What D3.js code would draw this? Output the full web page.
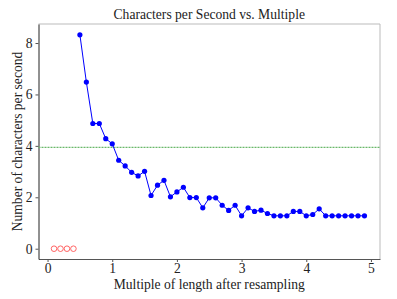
<!DOCTYPE html>
<html lang="en">
<head>
  <meta charset="UTF-8">
  <title>Characters per Second vs. Multiple</title>
  <script src="https://d3js.org/d3.v7.min.js"></script>
  <style>
    body { margin: 0; background: #fff; }
    svg { display: block; }
    svg text { font-family: "Liberation Serif", "DejaVu Serif", serif; }
  </style>
</head>
<body>
<svg width="397" height="299"></svg>
<script>
// multiples with zero throughput (red open circles)
const zeroX = [0.1, 0.2, 0.3, 0.4];
const zeroY = [0, 0, 0, 0];

// multiples 0.5 .. 4.9
const multiples = [
  0.5, 0.6, 0.7, 0.8, 0.9, 1.0, 1.1, 1.2, 1.3, 1.4,
  1.5, 1.6, 1.7, 1.8, 1.9, 2.0, 2.1, 2.2, 2.3, 2.4,
  2.5, 2.6, 2.7, 2.8, 2.9, 3.0, 3.1, 3.2, 3.3, 3.4,
  3.5, 3.6, 3.7, 3.8, 3.9, 4.0, 4.1, 4.2, 4.3, 4.4,
  4.5, 4.6, 4.7, 4.8, 4.9
];
const charsPerSec = [
  8.32, 6.48, 4.87, 4.87, 4.28, 4.08, 3.44, 3.22, 2.97, 2.83,
  3.01, 2.07, 2.47, 2.66, 2.02, 2.21, 2.39, 1.99, 1.99, 1.59,
  1.98, 1.98, 1.69, 1.49, 1.69, 1.28, 1.59, 1.45, 1.50, 1.37,
  1.28, 1.28, 1.28, 1.45, 1.45, 1.28, 1.33, 1.55, 1.28, 1.28,
  1.28, 1.28, 1.28, 1.28, 1.28
];

const reference = 3.94;
const xTicks = [0, 1, 2, 3, 4, 5];
const yTicks = [0, 2, 4, 6, 8];

const svg = d3.select("svg");
const margin = {top: 24, right: 17, bottom: 40, left: 38.5};
const width = 397 - margin.left - margin.right;
const height = 299 - margin.top - margin.bottom;
const fs = 13.6;

const g = svg.append("g").attr("transform", `translate(${margin.left},${margin.top})`);

const x = d3.scaleLinear().domain([-0.14, 5.14]).range([0, width]);
const y = d3.scaleLinear().domain([-0.4, 8.74]).range([height, 0]);

// frame: top / right light
g.append("line").attr("x1", 0).attr("x2", width).attr("y1", 0).attr("y2", 0)
  .attr("stroke", "#bbb");
g.append("line").attr("x1", width).attr("x2", width).attr("y1", 0).attr("y2", height)
  .attr("stroke", "#bbb");

const xAxis = g.append("g").attr("transform", `translate(0,${height})`)
  .call(d3.axisBottom(x).tickValues(xTicks).tickSize(3).tickSizeOuter(0).tickFormat(d3.format("d")));
const yAxis = g.append("g")
  .call(d3.axisLeft(y).tickValues(yTicks).tickSize(3).tickSizeOuter(0).tickFormat(d3.format("d")));

xAxis.select(".domain").attr("stroke", "#555");
yAxis.select(".domain").attr("stroke", "#222");
[xAxis, yAxis].forEach(a => {
  a.attr("font-family", null).attr("font-size", null);
  a.selectAll(".tick line").attr("stroke", "#555");
  a.selectAll("text")
    .style("font-family", "'Liberation Serif', serif")
    .style("font-size", fs + "px")
    .attr("fill", "#222");
});
xAxis.selectAll("text").attr("dy", "0.6em");

// reference line
g.append("line")
  .attr("x1", 0).attr("x2", width)
  .attr("y1", y(reference)).attr("y2", y(reference))
  .attr("stroke", "#6ab86a")
  .attr("stroke-width", 1.2)
  .attr("stroke-dasharray", "2,1");

// main series
const pts = multiples.map((m, i) => [m, charsPerSec[i]]);
g.append("path")
  .datum(pts)
  .attr("fill", "none")
  .attr("stroke", "#0000ff")
  .attr("stroke-width", 1)
  .attr("d", d3.line().x(d => x(d[0])).y(d => y(d[1])));

g.selectAll(".dot")
  .data(pts)
  .enter().append("circle")
  .attr("class", "dot")
  .attr("cx", d => x(d[0]))
  .attr("cy", d => y(d[1]))
  .attr("r", 2.6)
  .attr("fill", "#0000ff");

// zero points
g.selectAll(".zero")
  .data(zeroX.map((v, i) => [v, zeroY[i]]))
  .enter().append("circle")
  .attr("class", "zero")
  .attr("cx", d => x(d[0]))
  .attr("cy", d => y(d[1]))
  .attr("r", 2.8)
  .attr("fill", "none")
  .attr("stroke", "#ff5555")
  .attr("stroke-width", 0.9);

// title and labels
const label = (sel) => sel
  .attr("text-anchor", "middle")
  .style("font-size", fs + "px")
  .attr("fill", "#222");

svg.append("text")
  .attr("x", margin.left + width / 2)
  .attr("y", 19)
  .call(label)
  .text("Characters per Second vs. Multiple");

svg.append("text")
  .attr("x", margin.left + width / 2)
  .attr("y", 289)
  .call(label)
  .text("Multiple of length after resampling");

svg.append("text")
  .attr("transform", "rotate(-90)")
  .attr("x", -(margin.top + height / 2))
  .attr("y", 22)
  .call(label)
  .text("Number of characters per second");
</script>
</body>
</html>
